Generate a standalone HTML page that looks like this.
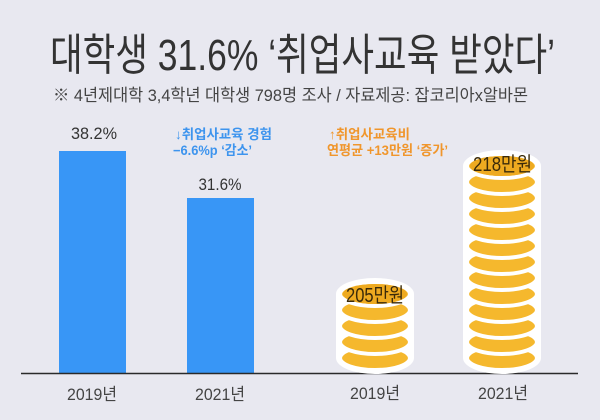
<!DOCTYPE html>
<html>
<head>
<meta charset="utf-8">
<style>
html,body{margin:0;padding:0;background:#e8e8f0;}
svg{display:block;}
text{font-family:"Liberation Sans","Noto Sans CJK KR",sans-serif;}
</style>
</head>
<body>
<svg width="600" height="420" viewBox="0 0 600 420" xmlns="http://www.w3.org/2000/svg">
  <rect x="0" y="0" width="600" height="420" fill="#e8e8f0"/>

  <!-- Title -->
  <text x="50" y="70" font-size="44" fill="#333333" textLength="505" lengthAdjust="spacingAndGlyphs">대학생 31.6% ‘취업사교육 받았다’</text>
  <text x="53" y="101" font-size="17" fill="#444444" textLength="475" lengthAdjust="spacingAndGlyphs">※ 4년제대학 3,4학년 대학생 798명 조사 / 자료제공: 잡코리아x알바몬</text>

  <!-- Bars -->
  <rect x="59" y="151" width="67" height="223" fill="#3896f6"/>
  <rect x="187" y="198" width="67" height="176" fill="#3896f6"/>

  <text x="94" y="139" font-size="17" fill="#333" text-anchor="middle" textLength="46" lengthAdjust="spacingAndGlyphs">38.2%</text>
  <text x="220" y="190" font-size="17" fill="#333" text-anchor="middle" textLength="43" lengthAdjust="spacingAndGlyphs">31.6%</text>

  <!-- Blue annotation -->
  <text x="175" y="139" font-size="13.5" font-weight="bold" fill="#3d94ee" textLength="97" lengthAdjust="spacingAndGlyphs">↓취업사교육 경험</text>
  <text x="173" y="155" font-size="13.5" font-weight="bold" fill="#3d94ee" textLength="79" lengthAdjust="spacingAndGlyphs">−6.6%p ‘감소’</text>

  <!-- Orange annotation -->
  <text x="329" y="139" font-size="13.5" font-weight="bold" fill="#f0962c" textLength="81" lengthAdjust="spacingAndGlyphs">↑취업사교육비</text>
  <text x="327" y="155" font-size="13.5" font-weight="bold" fill="#f0962c" textLength="121" lengthAdjust="spacingAndGlyphs">연평균 +13만원 ‘증가’</text>

  <!-- Axis line -->
  <line x1="21" y1="373.5" x2="578" y2="373.5" stroke="#2a2a2a" stroke-width="1.6"/>

  <!-- Left coin stack (205) -->
  <g>
    <g fill="#ffffff">
      <ellipse cx="375" cy="358" rx="39" ry="16"/>
      <ellipse cx="375" cy="342" rx="39" ry="16"/>
      <ellipse cx="375" cy="326" rx="39" ry="16"/>
      <ellipse cx="375" cy="310" rx="39" ry="16"/>
      <ellipse cx="375" cy="294" rx="39" ry="16"/>
      <rect x="336" y="294" width="78" height="64"/>
    </g>
    <g fill="#f5b82d" stroke="#ffffff" stroke-width="4">
      <ellipse cx="375" cy="358" rx="35" ry="12"/>
      <ellipse cx="375" cy="342" rx="35" ry="12"/>
      <ellipse cx="375" cy="326" rx="35" ry="12"/>
      <ellipse cx="375" cy="310" rx="35" ry="12"/>
      <ellipse cx="375" cy="294" rx="35" ry="12"/>
    </g>
    <ellipse cx="375" cy="294" rx="32" ry="10" fill="#eeaa20"/>
    <text x="375" y="302" font-size="20" fill="#3a2a0a" text-anchor="middle" textLength="58" lengthAdjust="spacingAndGlyphs">205만원</text>
  </g>

  <!-- Right coin stack (218) -->
  <g>
    <g fill="#ffffff">
      <rect x="463" y="166" width="78" height="192"/>
      <ellipse cx="502" cy="358" rx="39" ry="16"/>
      <ellipse cx="502" cy="166" rx="39" ry="16"/>
    </g>
    <g fill="#f5b82d" stroke="#ffffff" stroke-width="4">
      <ellipse cx="502" cy="358" rx="35" ry="12"/>
      <ellipse cx="502" cy="342" rx="35" ry="12"/>
      <ellipse cx="502" cy="326" rx="35" ry="12"/>
      <ellipse cx="502" cy="310" rx="35" ry="12"/>
      <ellipse cx="502" cy="294" rx="35" ry="12"/>
      <ellipse cx="502" cy="278" rx="35" ry="12"/>
      <ellipse cx="502" cy="262" rx="35" ry="12"/>
      <ellipse cx="502" cy="246" rx="35" ry="12"/>
      <ellipse cx="502" cy="230" rx="35" ry="12"/>
      <ellipse cx="502" cy="214" rx="35" ry="12"/>
      <ellipse cx="502" cy="198" rx="35" ry="12"/>
      <ellipse cx="502" cy="182" rx="35" ry="12"/>
      <ellipse cx="502" cy="166" rx="35" ry="12"/>
    </g>
    <ellipse cx="502" cy="166" rx="32" ry="10" fill="#eeaa20"/>
    <text x="502.5" y="171" font-size="20" fill="#3a2a0a" text-anchor="middle" textLength="59" lengthAdjust="spacingAndGlyphs">218만원</text>
  </g>

  <!-- X labels -->
  <text x="92" y="400" font-size="17" fill="#444" text-anchor="middle" textLength="50" lengthAdjust="spacingAndGlyphs">2019년</text>
  <text x="220" y="400" font-size="17" fill="#444" text-anchor="middle" textLength="50" lengthAdjust="spacingAndGlyphs">2021년</text>
  <text x="375" y="399" font-size="17" fill="#444" text-anchor="middle" textLength="50" lengthAdjust="spacingAndGlyphs">2019년</text>
  <text x="503" y="399" font-size="17" fill="#444" text-anchor="middle" textLength="50" lengthAdjust="spacingAndGlyphs">2021년</text>
</svg>
</body>
</html>
